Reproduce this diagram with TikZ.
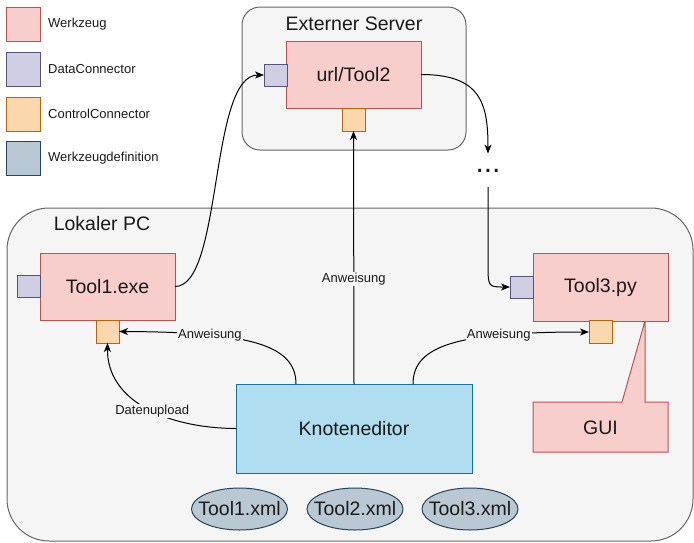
\documentclass[tikz,border=0pt]{standalone}
\usepackage{fontspec}
\setmainfont{Liberation Sans}
\usetikzlibrary{arrows.meta,calc,shapes.geometric}

\definecolor{toolfill}{HTML}{F8CECC}
\definecolor{toolline}{HTML}{B85450}
\definecolor{datafill}{HTML}{D0CEE2}
\definecolor{dataline}{HTML}{56517E}
\definecolor{ctrlfill}{HTML}{FAD7AC}
\definecolor{ctrlline}{HTML}{B46504}
\definecolor{deffill}{HTML}{BAC8D3}
\definecolor{defline}{HTML}{23445D}
\definecolor{editfill}{HTML}{B1DDF0}
\definecolor{editline}{HTML}{10739E}
\definecolor{groupfill}{HTML}{F5F5F5}
\definecolor{groupline}{HTML}{666666}
\definecolor{inktext}{HTML}{1A1A1A}

\newcommand\dgBig{\fontsize{19.5}{23}\selectfont}
\newcommand\dgSmall{\fontsize{13}{15}\selectfont}

\begin{document}
\begin{tikzpicture}[x=1pt,y=-1pt,
  every node/.style={text=inktext},
  box/.style={draw, line width=1pt, inner sep=0pt, outer sep=0pt},
  group/.style={draw=groupline, fill=groupfill, line width=1pt},
  tool/.style={box, fill=toolfill, draw=toolline, minimum width=135pt, minimum height=67pt, font=\dgBig},
  dconn/.style={box, fill=datafill, draw=dataline, minimum width=23pt, minimum height=22pt},
  cconn/.style={box, fill=ctrlfill, draw=ctrlline, minimum width=23pt, minimum height=23pt},
  tooldef/.style={box, ellipse, fill=deffill, draw=defline, minimum width=96pt, minimum height=42pt},
  deftext/.style={label={[font=\dgBig, inner sep=0pt]center:#1}},
  legendbox/.style={box, minimum width=34pt, minimum height=34pt},
  legendtext/.style={anchor=west, font=\dgSmall, inner sep=0pt},
  link/.style={line width=1pt, draw=black, -{Stealth[length=9pt,width=7pt,inset=2.5pt]}},
  linklabel/.style={font=\dgSmall, fill=groupfill, inner sep=1pt},
]
\useasboundingbox (0,0) rectangle (694,542);

% legend
\node[legendbox, fill=toolfill, draw=toolline] (lgTool) at (23,24) {};
\node[legendtext] (lgToolT) at (48,24) {Werkzeug};
\node[legendbox, fill=datafill, draw=dataline] (lgData) at (23,69) {};
\node[legendtext] (lgDataT) at (48,69) {DataConnector};
\node[legendbox, fill=ctrlfill, draw=ctrlline] (lgCtrl) at (23,114) {};
\node[legendtext] (lgCtrlT) at (48,114) {ControlConnector};
\node[legendbox, fill=deffill, draw=defline] (lgDef) at (23,158) {};
\node[legendtext] (lgDefT) at (48,158) {Werkzeugdefinition};

% groups
\draw[group, rounded corners=18pt] (242,7) rectangle (466,150);
\node[font=\dgBig, inner sep=0pt] (extT) at (354,24) {Externer Server};
\draw[group, rounded corners=42pt] (7,208) rectangle (693,541);
\node[font=\dgBig, inner sep=0pt] (pcT) at (102,224) {Lokaler PC};

% GUI callout attached to Tool3.py
\draw[box, fill=toolfill, draw=toolline]
  (533,402) -- (622,402) -- (645,321) -- (645,402) -- (668,402)
  -- (668,452) -- (533,452) -- cycle;
\node[font=\dgBig] (gui) at (600.5,428) {GUI};

% tools
\node[tool] (t2) at (353.5,74.5) {url/Tool2};
\node[dconn] (t2d) at (275.5,75) {};
\node[cconn] (t2c) at (353.5,119.5) {};

\node[tool] (t1) at (107.5,286.5) {Tool1.exe};
\node[dconn] (t1d) at (28.5,286.5) {};
\node[cconn] (t1c) at (107.5,331.5) {};

\node[tool, minimum height=68pt] (t3) at (600.5,287) {Tool3.py};
\node[dconn] (t3d) at (521.5,287) {};
\node[cconn] (t3c) at (600.5,332) {};

\node[font=\fontsize{30}{32}\selectfont, inner xsep=0pt, inner ysep=15pt, anchor=base] (dots) at (488,172) {...};

% editor and tool definitions
\node[box, fill=editfill, draw=editline, minimum width=236pt, minimum height=89pt, font=\dgBig] (ke) at (354,428.5) {Knoteneditor};
\node[tooldef, deftext=Tool1.xml] (x1) at (239.5,509) {};
\node[tooldef, deftext=Tool2.xml] (x2) at (355,509) {};
\node[tooldef, deftext=Tool3.xml] (x3) at (470,509) {};

% data flow
\draw[link] (t1.east) .. controls +(48,0) and +(-55,0) .. (t2d.west);
\draw[link] (t2.east) .. controls +(60,0) and +(0,-50) .. (dots.north);
\coordinate (dbend) at (488,262);
\draw[link] (dots.south) -- (dbend) .. controls (488,287) .. (t3d.west);

% control flow
\draw[link] (ke.north) -- node[linklabel, pos=0.415] {Anweisung} (t2c.south);
\coordinate (keL) at ($(ke.north west)+(60,0)$);
\coordinate (keR) at ($(ke.north east)+(-59,0)$);
\draw[link] (keL) .. controls (296,345) and (250,332) .. node[linklabel, pos=0.72] {Anweisung} (t1c.east);
\draw[link] (keR) .. controls (413,345) and (459,332) .. node[linklabel, pos=0.72] {Anweisung} (t3c.west);
\draw[link] (ke.west) .. controls (165,428) and (107,400) .. node[linklabel, pos=0.45] {Datenupload} (t1c.south);
\end{tikzpicture}
\end{document}
